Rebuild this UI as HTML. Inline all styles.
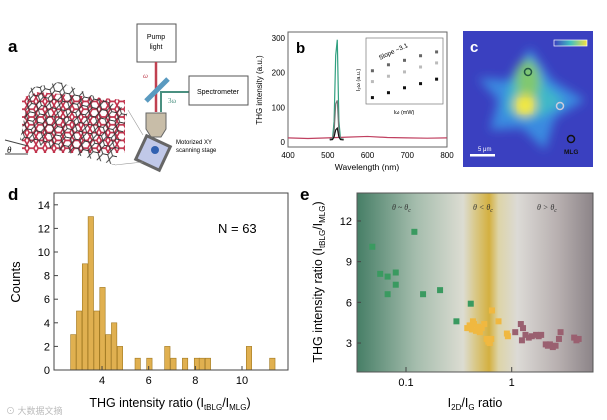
<!DOCTYPE html>
<html><head><meta charset="utf-8"><style>
body{margin:0;background:#fff}
svg{display:block;font-family:"Liberation Sans",Arial,sans-serif}
</style></head><body>
<svg id="fig" width="607" height="420" viewBox="0 0 607 420">
<defs>
<pattern id="hexR" width="9" height="7.8" patternUnits="userSpaceOnUse">
<polygon points="2.25,0 6.75,0 9,3.9 6.75,7.8 2.25,7.8 0,3.9" fill="#fff" stroke="#c0304a" stroke-width="1.6"/>
</pattern>
<pattern id="hexK" width="10" height="8.6" patternUnits="userSpaceOnUse" patternTransform="rotate(12)">
<polygon points="2.5,0 7.5,0 10,4.3 7.5,8.6 2.5,8.6 0,4.3" fill="none" stroke="#333" stroke-width="0.9"/>
</pattern>
<linearGradient id="bgE" x1="0" x2="1" y1="0" y2="0">
<stop offset="0" stop-color="#467e66"/>
<stop offset="0.25" stop-color="#a5bdad"/>
<stop offset="0.45" stop-color="#dcdcd2"/>
<stop offset="0.5" stop-color="#d9c98a"/>
<stop offset="0.56" stop-color="#d4b040"/>
<stop offset="0.6" stop-color="#ddd4a8"/>
<stop offset="0.68" stop-color="#dcdad6"/>
<stop offset="0.85" stop-color="#b8b0b0"/>
<stop offset="1" stop-color="#8c8488"/>
</linearGradient>
<filter id="blur" x="-20%" y="-20%" width="140%" height="140%"><feGaussianBlur stdDeviation="5"/></filter>
<linearGradient id="cbar" x1="0" x2="1"><stop offset="0" stop-color="#3a3ec0"/><stop offset="0.5" stop-color="#40c0c0"/><stop offset="1" stop-color="#f5e040"/></linearGradient>
</defs>

<!-- Panel a -->
<g>
<text x="8" y="52" font-size="17" font-weight="bold">a</text>
<polygon points="22,98 38,92 125,100 125,153 22,153" fill="url(#hexR)"/>
<polygon points="30,88 60,82 128,110 115,165 20,140" fill="url(#hexK)"/>
<line x1="5" y1="140" x2="28" y2="146" stroke="#444" stroke-width="1"/>
<line x1="5" y1="154" x2="28" y2="154" stroke="#444" stroke-width="1"/>
<text x="7" y="153" font-size="9" font-style="italic" font-family="Liberation Serif,serif">θ</text>
<rect x="137" y="24" width="39" height="38" fill="#fff" stroke="#555"/>
<text x="156" y="39" font-size="7" text-anchor="middle">Pump</text>
<text x="156" y="49" font-size="7" text-anchor="middle">light</text>
<line x1="156" y1="62" x2="156" y2="112" stroke="#c04050" stroke-width="2.5"/>
<text x="143" y="78" font-size="7" fill="#c04050" font-style="italic" font-family="Liberation Serif,serif">ω</text>
<line x1="160" y1="92" x2="189" y2="92" stroke="#4a9080" stroke-width="2"/>
<line x1="161" y1="92" x2="161" y2="112" stroke="#4a9080" stroke-width="2"/>
<line x1="146" y1="101" x2="168" y2="79" stroke="#5a9ac0" stroke-width="5"/>
<text x="168" y="103" font-size="7" fill="#4a9080" font-family="Liberation Serif,serif">3ω</text>
<rect x="189" y="76" width="59" height="29" fill="#fff" stroke="#555"/>
<text x="218" y="94" font-size="7" text-anchor="middle">Spectrometer</text>
<path d="M146,113 h20 v16 l-5,8 h-10 l-5,-8 z" fill="#c8bda8" stroke="#666"/>
<rect x="140" y="140" width="26" height="26" transform="rotate(25 153 153)" fill="#c0c8e8" stroke="#666" stroke-width="3"/>
<circle cx="155" cy="150" r="4" fill="#3060b0"/>
<text x="176" y="144" font-size="6">Motorized XY</text>
<text x="176" y="152" font-size="6">scanning stage</text>
<line x1="128" y1="110" x2="143" y2="135" stroke="#999" stroke-width="0.6"/>
<line x1="115" y1="165" x2="143" y2="162" stroke="#999" stroke-width="0.6"/>
</g>

<!-- Panel b -->
<g>
<rect x="288" y="32" width="159" height="115" fill="#fff" stroke="#666"/>
<g id="bg"></g>
<text x="296" y="53" font-size="15" font-weight="bold">b</text>
<text transform="translate(262,90) rotate(-90)" font-size="8" text-anchor="middle">THG intensity (a.u.)</text>
<text x="367" y="170" font-size="8.5" text-anchor="middle">Wavelength (nm)</text>
<rect x="366" y="38" width="77" height="66" fill="#fff" stroke="#777" stroke-width="0.7"/>
<text transform="translate(380,60) rotate(-25)" font-size="6.5">Slope ~3.1</text>
<text transform="translate(360,80) rotate(-90)" font-size="5.5" text-anchor="middle">I₃ω (a.u.)</text>
<text x="404" y="114" font-size="5.5" text-anchor="middle">Iω (mW)</text>
<g id="inset"></g>
</g>

<!-- Panel c -->
<g>
<svg x="463" y="31" width="130" height="136" viewBox="463 31 130 136">
<rect x="463" y="31" width="130" height="136" fill="#3a40c0"/>
<g filter="url(#blur)">
<path d="M530,48 L552,80 L585,100 L555,118 L545,150 L522,128 L490,130 L498,100 L478,78 L510,80 Z" fill="#3a8ae0"/>
<path d="M528,55 L545,85 L565,102 L545,115 L525,120 L505,112 L508,90 L515,70 Z" fill="#40b8c8"/>
<ellipse cx="528" cy="80" rx="12" ry="20" fill="#80c870"/>
<ellipse cx="525" cy="105" rx="11" ry="11" fill="#e8e040"/>
</g>
<ellipse cx="525" cy="106" rx="6" ry="6" fill="#f8ee40" filter="url(#blur)"/>
</svg>
<circle cx="528" cy="72" r="3.5" fill="none" stroke="#254" stroke-width="1.5"/>
<circle cx="560" cy="106" r="3.5" fill="none" stroke="#ccd" stroke-width="1.5"/>
<circle cx="571" cy="139" r="3.5" fill="none" stroke="#111" stroke-width="1.5"/>
<text x="564" y="154" font-size="6.5" font-weight="bold" fill="#111">MLG</text>
<text x="478" y="151" font-size="6" fill="#fff">5 μm</text>
<rect x="470" y="154" width="25" height="2.5" fill="#fff"/>
<rect x="554" y="40" width="33" height="6" fill="url(#cbar)" stroke="#fff" stroke-width="0.7"/>
<text x="470" y="52" font-size="15" font-weight="bold" fill="#fff">c</text>
</g>

<!-- Panel d -->
<g>
<text x="8" y="200" font-size="17" font-weight="bold">d</text>
<g id="dg"></g>
<rect x="54" y="193" width="234" height="177" fill="none" stroke="#444"/>
<text x="218" y="233" font-size="13">N = 63</text>
<text transform="translate(20,282) rotate(-90)" font-size="13" text-anchor="middle">Counts</text>
<text x="170" y="407" font-size="12.5" text-anchor="middle">THG intensity ratio (I<tspan font-size="8" dy="3">tBLG</tspan><tspan dy="-3">/I</tspan><tspan font-size="8" dy="3">MLG</tspan><tspan dy="-3">)</tspan></text>
<text x="6" y="414" font-size="9" fill="#bbb">⊙ 大数据文摘</text>
</g>

<!-- Panel e -->
<g>
<text x="300" y="200" font-size="17" font-weight="bold">e</text>
<rect x="357" y="193" width="236" height="179" fill="url(#bgE)"/>
<g font-size="8" font-style="italic" font-family="Liberation Serif,serif" fill="#333">
<text x="392" y="210">θ ~ θ<tspan font-size="6" dy="2">c</tspan></text>
<text x="473" y="210">θ &lt; θ<tspan font-size="6" dy="2">c</tspan></text>
<text x="537" y="210">θ &gt; θ<tspan font-size="6" dy="2">c</tspan></text>
</g>
<g id="eg"></g>
<rect x="357" y="193" width="236" height="179" fill="none" stroke="#555"/>
<text transform="translate(322,282) rotate(-90)" font-size="12.5" text-anchor="middle">THG intensity ratio (I<tspan font-size="8" dy="3">tBLG</tspan><tspan dy="-3">/I</tspan><tspan font-size="8" dy="3">MLG</tspan><tspan dy="-3">)</tspan></text>
<text x="475" y="407" font-size="12.5" text-anchor="middle">I<tspan font-size="8" dy="3">2D</tspan><tspan dy="-3">/I</tspan><tspan font-size="8" dy="3">G</tspan><tspan dy="-3"> ratio</tspan></text>
</g>
</svg>
<script>
// Panel d data
const dBins=[2.77,3.02,3.27,3.52,3.77,4.02,4.27,4.52,4.77,5.53,6.03,6.8,7.06,7.56,8.07,8.28,8.54,10.3,11.3];
const dCounts=[3,5,9,13,5,7,3,4,2,1,1,2,1,1,1,1,1,2,1];
const dYTicks=[0,2,4,6,8,10,12,14];
const dXTicks=[4,6,8,10];
// Panel e data
const eGreenX=[0.048,0.057,0.067,0.067,0.08,0.08,0.12,0.145,0.21,0.30,0.41];
const eGreenY=[10.1,8.1,7.9,6.6,8.2,7.3,11.2,6.6,6.9,4.6,5.9];
const eOrangeX=[0.38,0.40,0.42,0.43,0.44,0.46,0.48,0.50,0.52,0.55,0.58,0.60,0.62,0.64,0.65,0.75,0.9,0.92];
const eOrangeY=[4.1,4.3,4.0,4.6,4.4,3.9,4.2,3.8,4.1,4.4,3.3,3.1,3.0,3.3,5.4,4.6,3.7,3.5];
const ePurpleX=[1.08,1.22,1.28,1.25,1.35,1.45,1.55,1.7,1.8,1.9,2.1,2.2,2.3,2.45,2.6,2.8,2.9,3.9,4.1,4.3];
const ePurpleY=[3.8,4.4,4.1,3.2,3.6,3.4,3.5,3.6,3.5,3.6,2.9,2.8,2.9,2.7,2.8,3.3,3.8,3.4,3.2,3.3];
const eYTicks=[3,6,9,12];
const eXTicks=[0.1,1];
// Panel b data
const bXTicks=[400,500,600,700,800];
const bYTicks=[0,100,200,300];
const peakWl=[505,512,516,520,524,528,532,540];
const peakGreen=[8,10,60,250,295,60,10,8];
const peakGray=[8,9,30,110,120,30,9,8];
const peakBlack=[6,7,15,35,40,15,7,6];
const baseWl=[400,450,500,550,600,650,700,750,800];
const baseRed=[12,10,12,14,16,13,12,11,12];
const insetX=[3,3.5,4,4.5,5];
const insetA=[1.1,1.8,2.6,3.8,5.2];
const insetB=[0.45,0.7,1.0,1.5,2.1];
const insetC=[0.12,0.18,0.27,0.38,0.55];

const NS="http://www.w3.org/2000/svg";
function mk(p,t,a){const e=document.createElementNS(NS,t);for(const k in a)e.setAttribute(k,a[k]);p.appendChild(e);return e;}

// d
const dx=v=>8.7+v*23.33, dy=v=>370-v*11.8;
const dg=document.getElementById('dg');
dBins.forEach((b,i)=>{const h=dCounts[i];
const r=mk(dg,'rect',{x:dx(b)-2.7,y:dy(h),width:5.4,height:dy(0)-dy(h),fill:'#e0b050',stroke:'#a07820','stroke-width':0.6});

});
dYTicks.forEach(t=>{mk(dg,'line',{x1:54,x2:58,y1:dy(t),y2:dy(t),stroke:'#444'});
const tx=mk(dg,'text',{x:50,y:dy(t)+4,'font-size':11,'text-anchor':'end'});tx.textContent=t;

});
dXTicks.forEach(t=>{mk(dg,'line',{x1:dx(t),x2:dx(t),y1:370,y2:366,stroke:'#444'});
const tx=mk(dg,'text',{x:dx(t),y:384,'font-size':11,'text-anchor':'middle'});tx.textContent=t;

});

// e
const ex=v=>511.7+Math.log10(v)*105.7, ey=v=>383.7-v*13.56;
const eg=document.getElementById('eg');
function pts(X,Y,c,n){X.forEach((x,i)=>{const r=mk(eg,'rect',{x:ex(x)-3,y:ey(Y[i])-3,width:6,height:6,fill:c});

});}
pts(eGreenX,eGreenY,'#3a9a60','point-green');
pts(eOrangeX,eOrangeY,'#f0b840','point-orange');
pts(ePurpleX,ePurpleY,'#9a6070','point-purple');
eYTicks.forEach(t=>{mk(eg,'line',{x1:357,x2:361,y1:ey(t),y2:ey(t),stroke:'#444'});
const tx=mk(eg,'text',{x:352,y:ey(t)+4,'font-size':11,'text-anchor':'end'});tx.textContent=t;

});
eXTicks.forEach(t=>{mk(eg,'line',{x1:ex(t),x2:ex(t),y1:372,y2:367,stroke:'#444'});
const tx=mk(eg,'text',{x:ex(t),y:386,'font-size':11,'text-anchor':'middle'});tx.textContent=t;

});

// b
const bx=v=>288+(v-400)*159/400, by=v=>142-v*104/300;
const bg=document.getElementById('bg');
function line(X,Y,c,n){const p=mk(bg,'polyline',{points:X.map((x,i)=>bx(x)+','+by(Y[i])).join(' '),fill:'none',stroke:c,'stroke-width':1.2});

}
line(baseWl,baseRed,'#c04060','spectrum-red');
line(peakWl,peakGreen,'#30a080','spectrum-green');
line(peakWl,peakGray,'#777','spectrum-gray');
line(peakWl,peakBlack,'#111','spectrum-black');
bXTicks.forEach(t=>{const tx=mk(bg,'text',{x:bx(t),y:158,'font-size':8,'text-anchor':'middle'});tx.textContent=t;

});
bYTicks.forEach(t=>{const tx=mk(bg,'text',{x:285,y:by(t)+3,'font-size':8,'text-anchor':'end'});tx.textContent=t;

});
const ix=v=>366+(v-2.8)*77/2.4, iy=v=>104-(Math.log10(v)+1.15)*60/2.15;
const ig=document.getElementById('inset');
[[insetA,'#666'],[insetB,'#bbb'],[insetC,'#111']].forEach(([Y,c])=>insetX.forEach((x,i)=>{
const r=mk(ig,'rect',{x:ix(x)-1.5,y:iy(Y[i])-1.5,width:3,height:3,fill:c});

}));
</script>
</body></html>
